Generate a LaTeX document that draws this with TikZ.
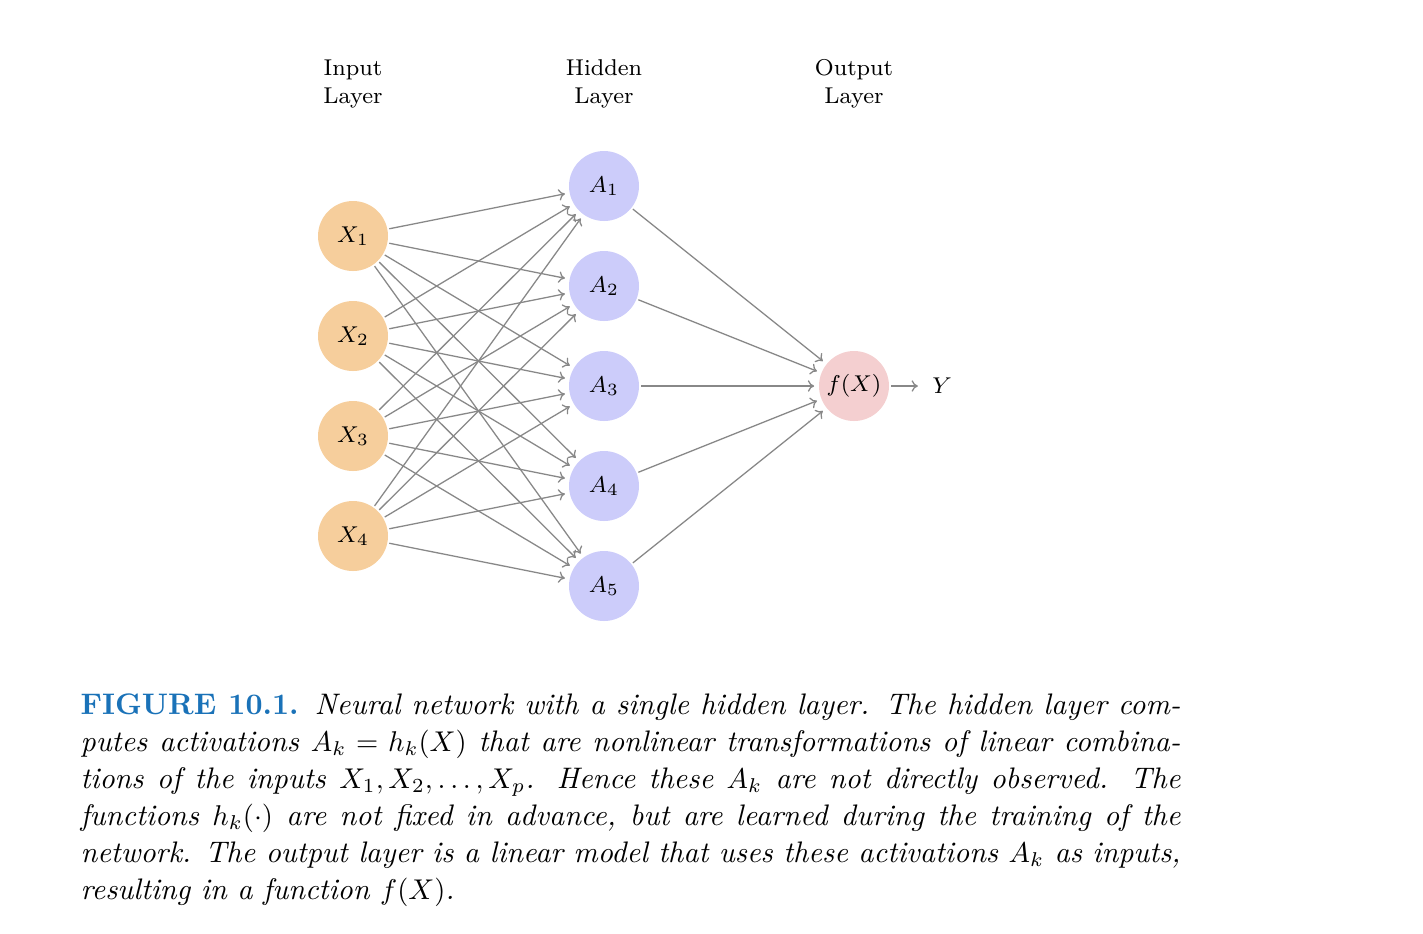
\documentclass[tikz,border=0pt]{standalone}
\usepackage{amsmath}
\usepackage{tikz}
\usetikzlibrary{arrows.meta,positioning}
\definecolor{nnOrange}{HTML}{F6CE9C}
\definecolor{nnBlue}{HTML}{CCCCFA}
\definecolor{nnPink}{HTML}{F4CFD0}
\definecolor{nnGray}{HTML}{888888}
\definecolor{capBlue}{HTML}{1A72B8}

\begin{document}
\begin{tikzpicture}[
x=0.35pt, y=-0.35pt,
every node/.style={font=\fontsize{8}{9.8}\selectfont},
unit/.style={circle, minimum size=24.5pt, inner sep=0pt},
inpUnit/.style={unit, fill=nnOrange},
hidUnit/.style={unit, fill=nnBlue},
outUnit/.style={unit, fill=nnPink},
layer/.style={align=center},
conn/.style={-{To[length=2.2pt,width=4pt]}, nnGray, line width=0.45pt, shorten >=1.5pt, shorten <=0.5pt}
]
\useasboundingbox (0,0) rectangle (1423,933);

% layer titles
\node[layer] (tIn) at (353,84) {Input\\Layer};
\node[layer] (tHid) at (604,84) {Hidden\\Layer};
\node[layer] (tOut) at (854,84) {Output\\Layer};

% units
\foreach \i in {1,...,4}
  \node[inpUnit] (X\i) at (353,136+100*\i) {$X_\i$};
\foreach \k in {1,...,5}
  \node[hidUnit] (A\k) at (604,86+100*\k) {$A_\k$};
\node[outUnit] (F) at (854,386) {$f(X)$};
\node (Y) at (942,386) {$Y$};

% connections
\foreach \i in {1,...,4}
  \foreach \k in {1,...,5}
    \draw[conn] (X\i) -- (A\k);
\foreach \k in {1,...,5}
  \draw[conn] (A\k) -- (F);
\draw[conn] (F) -- (Y);

% caption
\node[anchor=north west, text width=385pt, align=justify, inner sep=0pt,
  font=\fontsize{10.4}{12.95}\selectfont\itshape] (cap) at (80,693)
{{\upshape\bfseries\color{capBlue}FIGURE 10.1.} Neural network with a single hidden layer. The hidden layer computes activations $A_k=h_k(X)$ that are nonlinear transformations of linear combinations of the inputs $X_1,X_2,\ldots,X_p$. Hence these $A_k$ are not directly observed. The functions $h_k(\cdot)$ are not fixed in advance, but are learned during the training of the network. The output layer is a linear model that uses these activations $A_k$ as inputs, resulting in a function $f(X)$.};
\end{tikzpicture}
\end{document}
